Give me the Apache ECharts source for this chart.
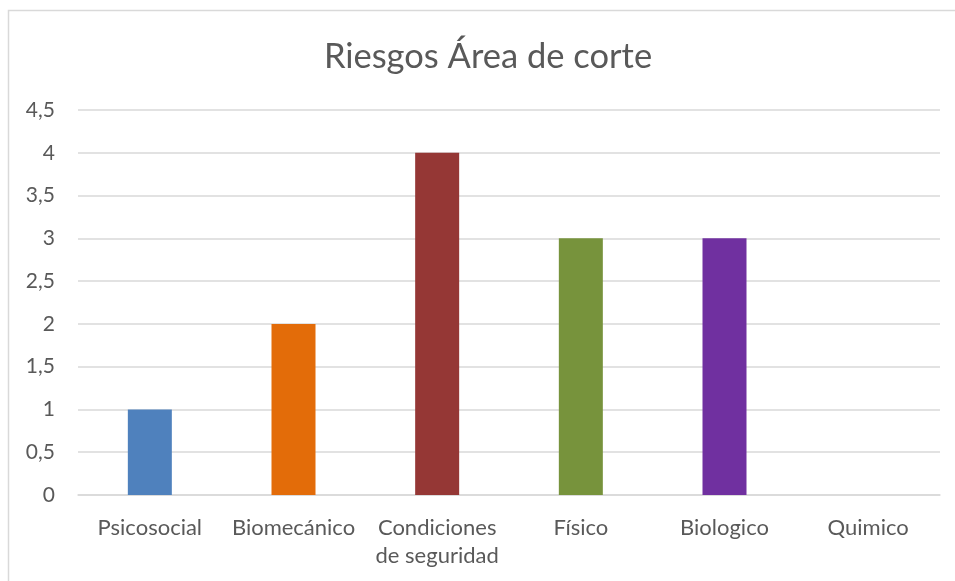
<!DOCTYPE html>
<html>
<head>
<meta charset="utf-8">
<script src="https://cdn.jsdelivr.net/npm/echarts@6/dist/echarts.min.js"></script>
<style>html,body{margin:0;padding:0;background:#fff}#c{width:955px;height:581px}</style>
</head>
<body>
<div id="c"></div>
<script>
const titleText = 'Riesgos Área de corte';
const categories = ['Psicosocial', 'Biomecánico', 'Condiciones\nde seguridad', 'Físico', 'Biologico', 'Quimico'];
const values = [1, 2, 4, 3, 3, 0];
const barColors = ['#4F81BD', '#E36C09', '#953735', '#77933C', '#7030A0', '#4BACC6'];

const chart = echarts.init(document.getElementById('c'), null, {renderer: 'canvas'});
const font = 'Lato, "Open Sans", sans-serif';
chart.setOption({
  animation: false,
  backgroundColor: '#fff',
  graphic: [{
    type: 'rect', shape: {x: 8.5, y: 10.5, width: 960, height: 600},
    style: {fill: 'none', stroke: '#D9D9D9', lineWidth: 1.5}, silent: true
  }],
  title: {
    text: titleText, left: 483, top: 34, textAlign: 'center',
    textStyle: {fontFamily: font, fontSize: 34.5, fontWeight: 'normal', color: '#595959'}
  },
  grid: {left: 78, right: 15, top: 110, bottom: 86, containLabel: false},
  xAxis: {
    type: 'category', data: categories,
    axisLine: {show: true, lineStyle: {color: '#D9D9D9', width: 1.5}},
    axisTick: {show: false},
    axisLabel: {fontFamily: font, fontSize: 22, color: '#595959', margin: 19, lineHeight: 28, interval: 0}
  },
  yAxis: {
    type: 'value', min: 0, max: 4.5, interval: 0.5,
    axisLine: {show: false}, axisTick: {show: false},
    splitLine: {lineStyle: {color: '#D9D9D9', width: 1.5}},
    axisLabel: {fontFamily: font, fontSize: 21, color: '#595959', margin: 23,
      formatter: v => String(v).replace('.', ',')}
  },
  series: [{
    type: 'bar', barWidth: 44,
    data: values.map((v, i) => ({value: v, itemStyle: {color: barColors[i]}}))
  }]
});
</script>
</body>
</html>
